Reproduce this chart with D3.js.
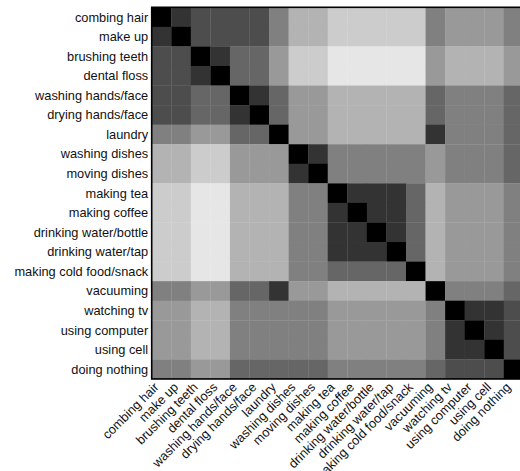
<!DOCTYPE html>
<html>
<head>
<meta charset="utf-8">
<script src="https://cdn.jsdelivr.net/npm/d3@7"></script>
<style>
  html, body { margin: 0; padding: 0; background: #fff; overflow: hidden; }
  svg { display: block; }
  text { font-family: "Liberation Sans", Arial, sans-serif; font-size: 12.8px; fill: #111; }
</style>
</head>
<body>
<div id="chart"></div>
<script>
const activities = [
  "combing hair", "make up", "brushing teeth", "dental floss",
  "washing hands/face", "drying hands/face", "laundry",
  "washing dishes", "moving dishes", "making tea", "making coffee",
  "drinking water/bottle", "drinking water/tap", "making cold food/snack",
  "vacuuming", "watching tv", "using computer", "using cell", "doing nothing"
];

// distance matrix (0 = black, 1 = white)
const distances = [
  [0.0,0.2,0.3,0.3,0.3,0.3,0.5,0.7,0.7,0.8,0.8,0.8,0.8,0.8,0.5,0.6,0.6,0.6,0.5],
  [0.2,0.0,0.3,0.3,0.3,0.3,0.5,0.7,0.7,0.8,0.8,0.8,0.8,0.8,0.5,0.6,0.6,0.6,0.5],
  [0.3,0.3,0.0,0.2,0.4,0.4,0.6,0.8,0.8,0.9,0.9,0.9,0.9,0.9,0.6,0.7,0.7,0.7,0.6],
  [0.3,0.3,0.2,0.0,0.4,0.4,0.6,0.8,0.8,0.9,0.9,0.9,0.9,0.9,0.6,0.7,0.7,0.7,0.6],
  [0.3,0.3,0.4,0.4,0.0,0.2,0.4,0.6,0.6,0.7,0.7,0.7,0.7,0.7,0.4,0.5,0.5,0.5,0.4],
  [0.3,0.3,0.4,0.4,0.2,0.0,0.4,0.6,0.6,0.7,0.7,0.7,0.7,0.7,0.4,0.5,0.5,0.5,0.4],
  [0.5,0.5,0.6,0.6,0.4,0.4,0.0,0.6,0.6,0.7,0.7,0.7,0.7,0.7,0.2,0.5,0.5,0.5,0.4],
  [0.7,0.7,0.8,0.8,0.6,0.6,0.6,0.0,0.2,0.5,0.5,0.5,0.5,0.5,0.6,0.5,0.5,0.5,0.4],
  [0.7,0.7,0.8,0.8,0.6,0.6,0.6,0.2,0.0,0.5,0.5,0.5,0.5,0.5,0.6,0.5,0.5,0.5,0.4],
  [0.8,0.8,0.9,0.9,0.7,0.7,0.7,0.5,0.5,0.0,0.2,0.2,0.2,0.4,0.7,0.6,0.6,0.6,0.5],
  [0.8,0.8,0.9,0.9,0.7,0.7,0.7,0.5,0.5,0.2,0.0,0.2,0.2,0.4,0.7,0.6,0.6,0.6,0.5],
  [0.8,0.8,0.9,0.9,0.7,0.7,0.7,0.5,0.5,0.2,0.2,0.0,0.2,0.4,0.7,0.6,0.6,0.6,0.5],
  [0.8,0.8,0.9,0.9,0.7,0.7,0.7,0.5,0.5,0.2,0.2,0.2,0.0,0.4,0.7,0.6,0.6,0.6,0.5],
  [0.8,0.8,0.9,0.9,0.7,0.7,0.7,0.5,0.5,0.4,0.4,0.4,0.4,0.0,0.7,0.6,0.6,0.6,0.5],
  [0.5,0.5,0.6,0.6,0.4,0.4,0.2,0.6,0.6,0.7,0.7,0.7,0.7,0.7,0.0,0.5,0.5,0.5,0.4],
  [0.6,0.6,0.7,0.7,0.5,0.5,0.5,0.5,0.5,0.6,0.6,0.6,0.6,0.6,0.5,0.0,0.2,0.2,0.3],
  [0.6,0.6,0.7,0.7,0.5,0.5,0.5,0.5,0.5,0.6,0.6,0.6,0.6,0.6,0.5,0.2,0.0,0.2,0.3],
  [0.6,0.6,0.7,0.7,0.5,0.5,0.5,0.5,0.5,0.6,0.6,0.6,0.6,0.6,0.5,0.2,0.2,0.0,0.3],
  [0.5,0.5,0.6,0.6,0.4,0.4,0.4,0.4,0.4,0.5,0.5,0.5,0.5,0.5,0.4,0.3,0.3,0.3,0.0]
];

const W = 520, H = 471;
const gridLeft = 151.7, gridTop = 7.3, cell = 19.56;
const size = cell * activities.length;

const svg = d3.select("#chart")
  .append("svg")
  .attr("width", W)
  .attr("height", H);

const x = d3.scaleBand().domain(activities).range([gridLeft, gridLeft + size]);
const y = d3.scaleBand().domain(activities).range([gridTop, gridTop + size]);
const gray = d3.scaleLinear().domain([0, 1]).range(["#000", "#fff"]);

const cells = [];
distances.forEach((row, i) => {
  row.forEach((v, j) => cells.push({ r: activities[i], c: activities[j], v }));
});

svg.append("g")
  .selectAll("rect")
  .data(cells)
  .join("rect")
  .attr("x", d => x(d.c))
  .attr("y", d => y(d.r))
  .attr("width", x.bandwidth() + 0.3)
  .attr("height", y.bandwidth() + 0.3)
  .attr("fill", d => gray(d.v));

// frame
svg.append("rect")
  .attr("x", gridLeft)
  .attr("y", gridTop)
  .attr("width", size)
  .attr("height", size)
  .attr("fill", "none")
  .attr("stroke", "#000")
  .attr("stroke-width", 1.6);

// row labels
svg.append("g")
  .selectAll("text")
  .data(activities)
  .join("text")
  .attr("x", gridLeft - 3.5)
  .attr("y", d => y(d) + y.bandwidth() / 2)
  .attr("dy", "0.35em")
  .attr("text-anchor", "end")
  .text(d => d);

// column labels, rotated
svg.append("g")
  .selectAll("text")
  .data(activities)
  .join("text")
  .attr("text-anchor", "end")
  .attr("transform", d => `translate(${x(d) + x.bandwidth() / 2 - 2},${gridTop + size + 9}) rotate(-45)`)
  .text(d => d);
</script>
</body>
</html>
